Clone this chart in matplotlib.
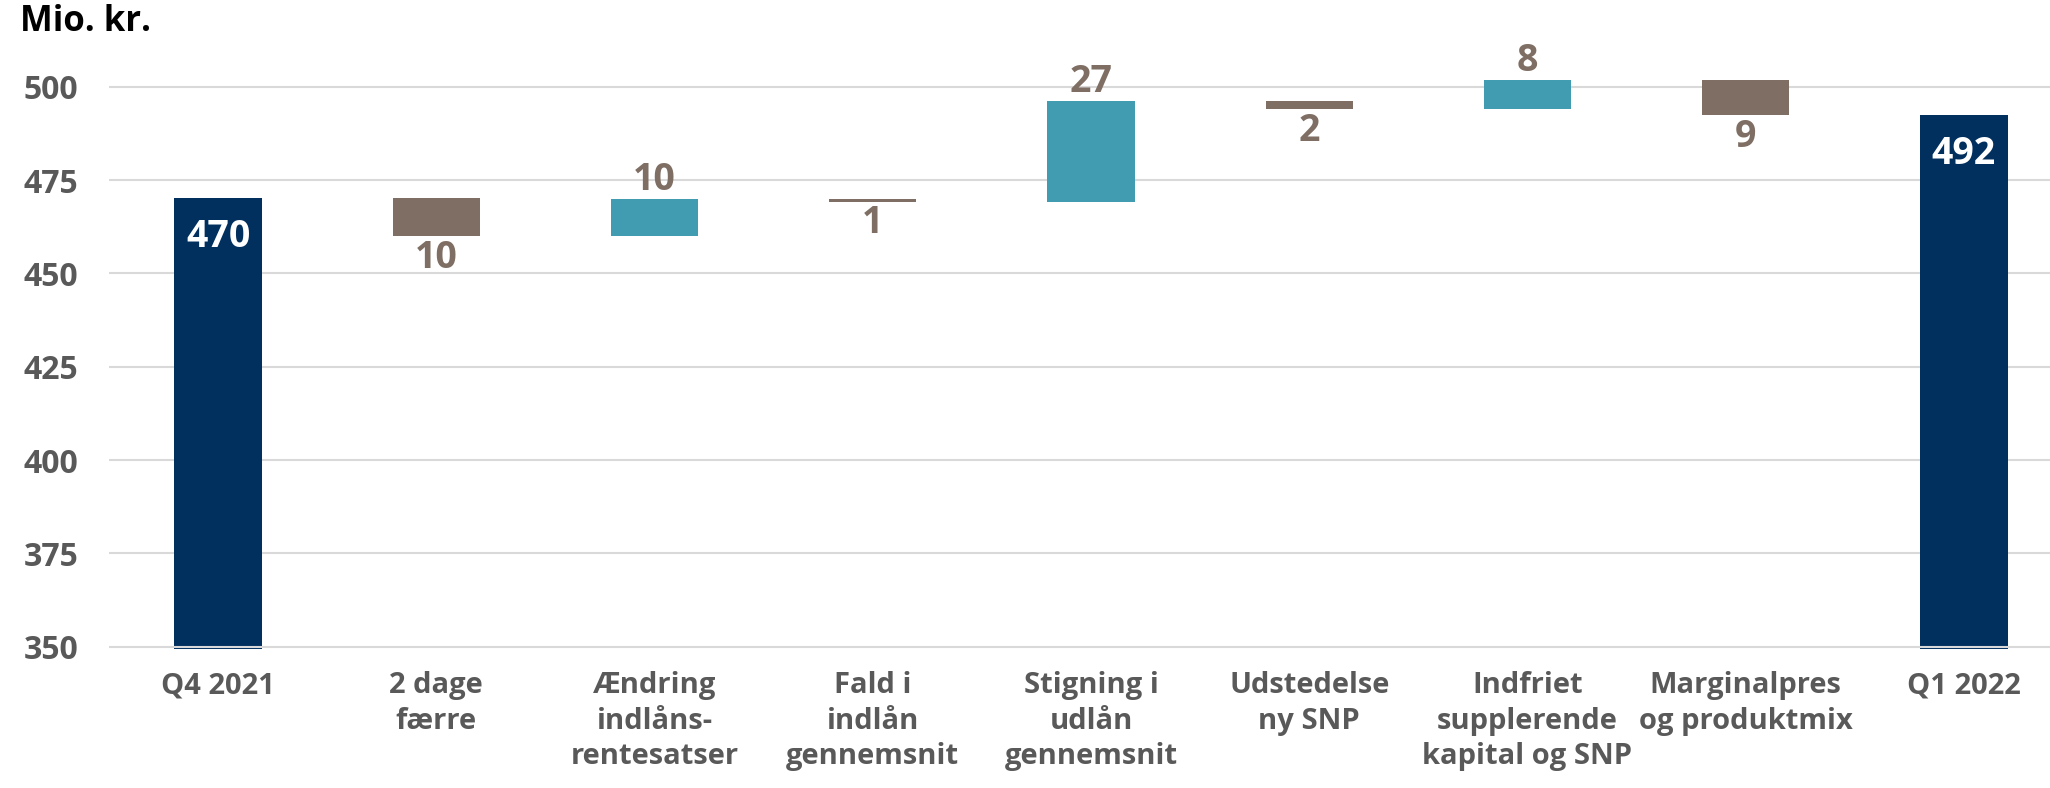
import matplotlib
matplotlib.use("Agg")
import matplotlib.pyplot as plt
import numpy as np

# data
categories = ["Q4 2021", "2 dage\nfærre", "Ændring\nindlåns-\nrentesatser",
              "Fald i\nindlån\ngennemsnit", "Stigning i\nudlån\ngennemsnit",
              "Udstedelse\nny SNP", "Indfriet\nsupplerende\nkapital og SNP",
              "Marginalpres\nog produktmix", "Q1 2022"]
start_value = 470.1
changes = [-10.2, 10.1, -0.8, 27.1, -2.4, 7.8, -9.4]
y_ticks = [350, 375, 400, 425, 450, 475, 500]

navy = "#012F5E"
teal = "#419CB1"
brown = "#7F6E63"
grey_txt = "#595959"

plt.rcParams['font.family'] = ['Open Sans', 'DejaVu Sans']
plt.rcParams['font.weight'] = 'bold'

fig = plt.figure(figsize=(20.5, 7.88), dpi=100)
ax = fig.add_axes([109 / 2050, 0.1765, (2073 - 109) / 2050, 0.7703])

y_min = 349.4
end_value = start_value + sum(changes)
x = np.arange(len(categories))
w = 0.40

# total bars
for xi, val in [(x[0], start_value), (x[-1], end_value)]:
    ax.bar(xi, val - y_min, bottom=y_min, width=w, color=navy, zorder=2)
    ax.annotate(f"{val:.0f}", (xi, val), xytext=(0, -14), textcoords="offset points",
                ha="center", va="top", color="white", fontsize=27, fontweight="bold")

# change bars
level = start_value
for i, d in enumerate(changes):
    xi = x[i + 1]
    new = level + d
    col = teal if d > 0 else brown
    ax.bar(xi, abs(d), bottom=min(level, new), width=w, color=col, zorder=2)
    if d > 0:
        ax.annotate(f"{abs(d):.0f}", (xi, new), xytext=(0, 0), textcoords="offset points",
                    ha="center", va="bottom", color=brown, fontsize=27, fontweight="bold")
    else:
        ax.annotate(f"{abs(d):.0f}", (xi, new), xytext=(0, -2), textcoords="offset points",
                    ha="center", va="top", color=brown, fontsize=27, fontweight="bold")
    level = new

ax.set_ylim(y_min, 512)
ax.set_xlim(-0.5, len(categories) - 0.5)
ax.set_yticks(y_ticks)
ax.set_xticks(x)
ax.set_xticklabels(categories, fontsize=21, color=grey_txt, fontweight="bold", linespacing=1.3)
ax.tick_params(axis="y", length=0, pad=22, labelsize=23, labelcolor=grey_txt)
ax.tick_params(axis="x", length=0, pad=16)
for t in y_ticks:
    ax.axhline(t, color="#D9D9D9", lw=1.5, zorder=1 if t > 350 else 3)
for s in ax.spines.values():
    s.set_visible(False)

fig.text(20 / 2050, 1 - 4 / 788, "Mio. kr.", ha="left", va="top",
         fontsize=25, fontweight="bold", color="black")

fig.savefig("out.png", dpi=100)
